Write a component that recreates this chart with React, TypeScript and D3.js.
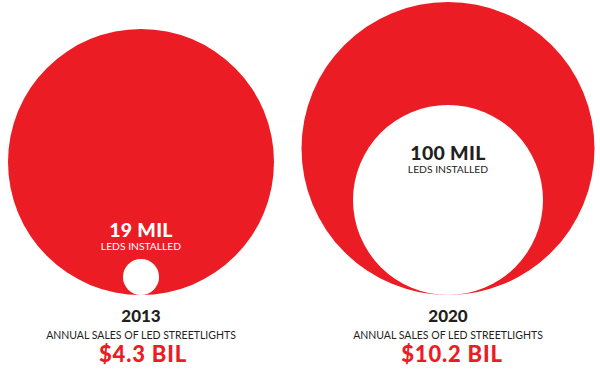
import React from "react";
import * as d3 from "d3";

const years = ["2013", "2020"];
const ledsInstalledMil = [19, 100];
const salesBil = [4.3, 10.2];
const ledsLabel = "LEDS INSTALLED";
const salesLabel = "ANNUAL SALES OF LED STREETLIGHTS";

const W = 600;
const H = 375;
const RED = "#EC1C24";
const DARK = "#231F20";
const baseY = 295;

export default function App() {
  const x = d3.scaleBand<string>().domain(years).range([-12.5, 601.5]);
  const rOuter = d3.scaleLinear().domain([4.3, 10.2]).range([133, 146.5]);
  const rInner = d3.scaleLinear().domain([0, 100]).range([0, 95]);
  const font = "Lato, 'Open Sans', sans-serif";

  return (
    <svg width={W} height={H} style={{ position: "absolute", left: 0, top: 0, background: "#fff" }}>
      {years.map((yr, i) => {
        const cx = x(yr)! + x.bandwidth() / 2;
        const ro = rOuter(salesBil[i]);
        const ri = rInner(ledsInstalledMil[i]);
        const cyO = baseY - ro;
        const cyI = baseY - ri;
        const inside = ri > 50;
        const labelY = inside ? cyI - 40 : cyI - ri - 22;
        const labelColor = inside ? DARK : "#fff";
        return (
          <g key={yr}>
            <circle cx={cx} cy={cyO} r={ro} fill={RED} />
            <circle cx={cx} cy={cyI} r={ri} fill="#fff" />
            <text x={cx} y={labelY} textAnchor="middle" fontFamily={font} fontWeight={900}
              fontSize={19.5} letterSpacing={0.3} fill={labelColor}>{`${ledsInstalledMil[i]} MIL`}</text>
            <text x={cx} y={labelY + 13} textAnchor="middle" fontFamily={font} fontWeight={400}
              fontSize={10.3} fill={labelColor}>{ledsLabel}</text>
            <text x={cx} y={322} textAnchor="middle" fontFamily={font} fontWeight={900}
              fontSize={17} fill={DARK}>{yr}</text>
            <text x={cx} y={338.5} textAnchor="middle" fontFamily={font} fontWeight={400}
              fontSize={10.5} fill={DARK}>{salesLabel}</text>
            <text x={cx + (i === 1 ? 4 : 2)} y={362} textAnchor="middle" fontFamily={font} fontWeight={900}
              fontSize={22} letterSpacing={0.8} fill={RED}>{`$${salesBil[i]} BIL`}</text>
          </g>
        );
      })}
    </svg>
  );
}
